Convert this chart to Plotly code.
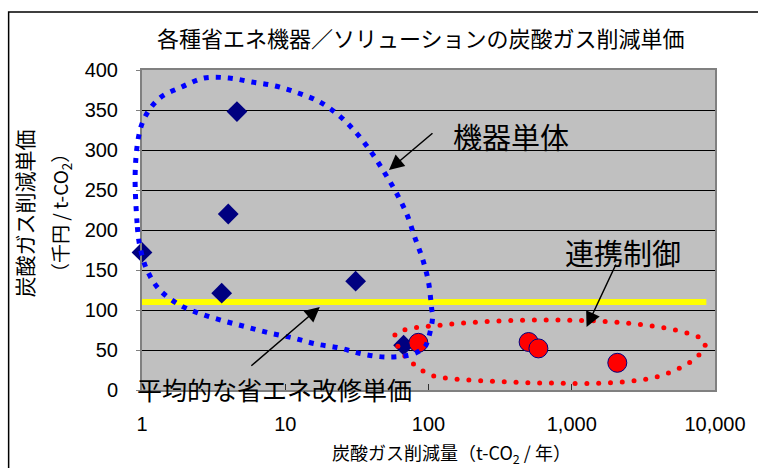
import numpy as np
import plotly.graph_objects as go

# ---------------- text ----------------
TITLE = "各種省エネ機器／ソリューションの炭酸ガス削減単価"
X_TITLE = "炭酸ガス削減量（t-CO<sub>2</sub> / 年）"
Y_TITLE_1 = "炭酸ガス削減単価"
Y_TITLE_2 = "（千円 / t-CO<sub>2</sub>）"
LABEL_DEVICE = "機器単体"
LABEL_SOLUTION = "連携制御"
LABEL_AVERAGE = "平均的な省エネ改修単価"

# ---------------- data ----------------
# 機器単体 (individual devices)
device_x = [1.0, 4.6, 4.0, 3.6, 31, 67]
device_y = [172, 348, 220, 121, 136, 56]

# 連携制御 (linked-control solutions)
solution_x = [85, 500, 585, 2080]
solution_y = [59, 60, 52, 34]

# average retrofit unit cost
avg_cost = 110
avg_x_span = [1, 8700]

x_tickvals = [1, 10, 100, 1000, 10000]
x_ticktext = ["1", "10", "100", "1,000", "10,000"]
y_tickvals = [0, 50, 100, 150, 200, 250, 300, 350, 400]

# hand-drawn outlines (data coordinates)
blue_outline_x = [0.924, 0.895, 0.938, 1.049, 1.331, 1.888, 2.72, 4.045, 5.83, 8.53,
                  12.29, 17.43, 23.95, 31.37, 39.81, 48.95, 59.21, 70.51, 80.08, 90.9,
                  100, 104.9, 106.6, 100, 92.4, 73.96, 50.5, 34.5, 23.95, 16.36,
                  11.36, 7.76, 5.38, 3.736, 2.593, 1.829, 1.331, 1.083, 0.969]
blue_outline_y = [208.75, 266.25, 312.5, 341.25, 365, 378.75, 390, 390, 385, 380,
                  371.25, 360, 342.5, 321.25, 297.5, 272.5, 247.5, 220, 191.25, 163.75,
                  135, 103.75, 88.75, 65, 52.5, 43.75, 41.25, 45, 52.5, 57.5,
                  65, 71.25, 78.75, 86.25, 95, 106.25, 125, 150, 178.75]

red_outline_x = [58.3, 71.6, 104.9, 224.7, 583, 1511, 3238, 5646, 8136, 8265,
                 6211, 3620, 1689, 651, 251, 117.2, 85.3, 64.1]
red_outline_y = [68.75, 76.25, 80, 85, 87.5, 86.25, 81.25, 73.75, 63.75, 50,
                 31.25, 15, 8.75, 8.75, 11.25, 16.25, 27.5, 48.75]

# ---------------- layout constants ----------------
W, H = 758, 468
ML, MR, MT, MB = 142, 36, 70, 78
PW, PH = W - ML - MR, H - MT - MB
XLOG = (0.0, 4.0)
YR = (0.0, 400.0)
FONT = "Liberation Sans, Arial, Noto Sans CJK JP, sans-serif"
CJK = "Noto Sans CJK JP, Liberation Sans, sans-serif"


def to_paper(x, y):
    x = np.asarray(x, float)
    y = np.asarray(y, float)
    return (np.log10(x) - XLOG[0]) / (XLOG[1] - XLOG[0]), (y - YR[0]) / (YR[1] - YR[0])


def catmull_closed(px, py):
    n = len(px)
    segs = []
    for i in range(n):
        p0 = (px[(i - 1) % n], py[(i - 1) % n])
        p1 = (px[i], py[i])
        p2 = (px[(i + 1) % n], py[(i + 1) % n])
        p3 = (px[(i + 2) % n], py[(i + 2) % n])
        c1 = (p1[0] + (p2[0] - p0[0]) / 6, p1[1] + (p2[1] - p0[1]) / 6)
        c2 = (p2[0] - (p3[0] - p1[0]) / 6, p2[1] - (p3[1] - p1[1]) / 6)
        segs.append((p1, c1, c2, p2))
    return segs


# blue outline -> SVG path in paper coords
bx, by = to_paper(blue_outline_x, blue_outline_y)
segs = catmull_closed(bx, by)
path = "M {:.5f},{:.5f}".format(*segs[0][0])
for p1, c1, c2, p2 in segs:
    path += " C {:.5f},{:.5f} {:.5f},{:.5f} {:.5f},{:.5f}".format(c1[0], c1[1], c2[0], c2[1], p2[0], p2[1])
path += " Z"

# red outline -> evenly spaced round dots
rx, ry = to_paper(red_outline_x, red_outline_y)
ru, rv = rx * PW, ry * PH
dense_u, dense_v = [], []
for p1, c1, c2, p2 in catmull_closed(ru, rv):
    t = np.linspace(0, 1, 60, endpoint=False)
    dense_u.extend((1 - t) ** 3 * p1[0] + 3 * (1 - t) ** 2 * t * c1[0] + 3 * (1 - t) * t ** 2 * c2[0] + t ** 3 * p2[0])
    dense_v.extend((1 - t) ** 3 * p1[1] + 3 * (1 - t) ** 2 * t * c1[1] + 3 * (1 - t) * t ** 2 * c2[1] + t ** 3 * p2[1])
dense_u = np.array(dense_u + [dense_u[0]])
dense_v = np.array(dense_v + [dense_v[0]])
arc = np.concatenate([[0], np.cumsum(np.hypot(np.diff(dense_u), np.diff(dense_v)))])
ndots = int(round(arc[-1] / 12.0))
s = np.linspace(0, arc[-1], ndots, endpoint=False)
du = np.interp(s, arc, dense_u)
dv = np.interp(s, arc, dense_v)
red_dot_x = 10 ** (XLOG[0] + du / PW * (XLOG[1] - XLOG[0]))
red_dot_y = YR[0] + dv / PH * (YR[1] - YR[0])

fig = go.Figure()

fig.add_trace(go.Scatter(
    x=avg_x_span, y=[avg_cost, avg_cost], mode="lines",
    line=dict(color="#FFFF00", width=6), hoverinfo="skip", showlegend=False))

fig.add_trace(go.Scatter(
    x=device_x, y=device_y, mode="markers", cliponaxis=False,
    marker=dict(symbol="diamond", size=16, color="#000080", line=dict(width=0)),
    showlegend=False))

fig.add_trace(go.Scatter(
    x=solution_x, y=solution_y, mode="markers", cliponaxis=False,
    marker=dict(symbol="circle", size=19, color="#FF0000", line=dict(width=1, color="#000080")),
    showlegend=False))

fig.add_trace(go.Scatter(
    x=red_dot_x, y=red_dot_y, mode="markers", cliponaxis=False,
    marker=dict(symbol="circle", size=5, color="#FF0000", line=dict(width=0)),
    hoverinfo="skip", showlegend=False))

shapes = [
    dict(type="path", xref="paper", yref="paper", path=path, layer="above",
         line=dict(color="#0000FF", width=5, dash="5px,7px")),
    dict(type="rect", xref="paper", yref="paper",
         x0=(7 - ML) / PW, x1=(W + 20 - ML) / PW,
         y0=(H - MB - (H + 20)) / PH, y1=(H - MB - 12) / PH,
         line=dict(color="black", width=1.5), layer="below"),
]

annotations = [
    dict(text=TITLE, xref="paper", yref="paper", x=(424 - ML) / PW, y=(H - MB - 37) / PH,
         showarrow=False, font=dict(family=CJK, size=22, color="black"), xanchor="center", yanchor="middle"),
    dict(text=Y_TITLE_1, xref="paper", yref="paper", x=(23 - ML) / PW, y=(H - MB - 213) / PH,
         textangle=-90, showarrow=False, font=dict(family=CJK, size=21, color="black"),
         xanchor="center", yanchor="middle"),
    dict(text=Y_TITLE_2, xref="paper", yref="paper", x=(60 - ML) / PW, y=(H - MB - 213) / PH,
         textangle=-90, showarrow=False, font=dict(family=CJK, size=19, color="black"),
         xanchor="center", yanchor="middle"),
    dict(text=X_TITLE, xref="paper", yref="paper", x=(455 - ML) / PW, y=(H - MB - 453) / PH,
         showarrow=False, font=dict(family=CJK, size=18, color="black"), xanchor="center", yanchor="middle"),
    dict(text=LABEL_DEVICE, xref="paper", yref="paper", x=(516 - ML) / PW, y=(H - MB - 136) / PH,
         showarrow=False, font=dict(family=CJK, size=29, color="black"), xanchor="center", yanchor="middle"),
    dict(text=LABEL_SOLUTION, xref="paper", yref="paper", x=(629 - ML) / PW, y=(H - MB - 252) / PH,
         showarrow=False, font=dict(family=CJK, size=29, color="black"), xanchor="center", yanchor="middle"),
    dict(text=LABEL_AVERAGE, xref="paper", yref="paper", x=(276 - ML) / PW, y=(H - MB - 389) / PH,
         showarrow=False, font=dict(family=CJK, size=25, color="black"), xanchor="center", yanchor="middle"),
]

arrows = [((392, 170), 45, -38), ((592, 327), 30, -64), ((322, 307), -70, 60)]
for (tx, ty), ax, ay in arrows:
    annotations.append(dict(
        text="", xref="paper", yref="paper", x=(tx - ML) / PW, y=(H - MB - ty) / PH,
        axref="pixel", ayref="pixel", ax=ax, ay=ay, showarrow=True,
        arrowhead=2, arrowsize=2, arrowwidth=1.5, arrowcolor="black"))

fig.update_layout(
    width=W, height=H, autosize=False,
    margin=dict(l=ML, r=MR, t=MT, b=MB, pad=0),
    paper_bgcolor="white", plot_bgcolor="#C0C0C0",
    font=dict(family=FONT, size=20, color="black"),
    shapes=shapes, annotations=annotations,
    showlegend=False,
    xaxis=dict(type="log", range=list(XLOG), tickvals=x_tickvals, ticktext=x_ticktext,
               showgrid=False, zeroline=False, showline=True, linecolor="#808080", linewidth=2,
               mirror=True, ticks="inside", ticklen=6, tickcolor="#303030",
               ticklabelstandoff=15, tickfont=dict(family=FONT, size=20)),
    yaxis=dict(range=list(YR), tickvals=y_tickvals, showgrid=True, gridcolor="black", gridwidth=1,
               zeroline=False, showline=True, linecolor="#808080", linewidth=2, mirror=True,
               ticks="outside", ticklen=4, tickcolor="#808080",
               ticklabelstandoff=14, tickfont=dict(family=FONT, size=20)),
)

fig.write_html("out.html", config={"displayModeBar": False},
               post_script="document.body.style.margin='0';document.body.style.overflow='hidden';")
